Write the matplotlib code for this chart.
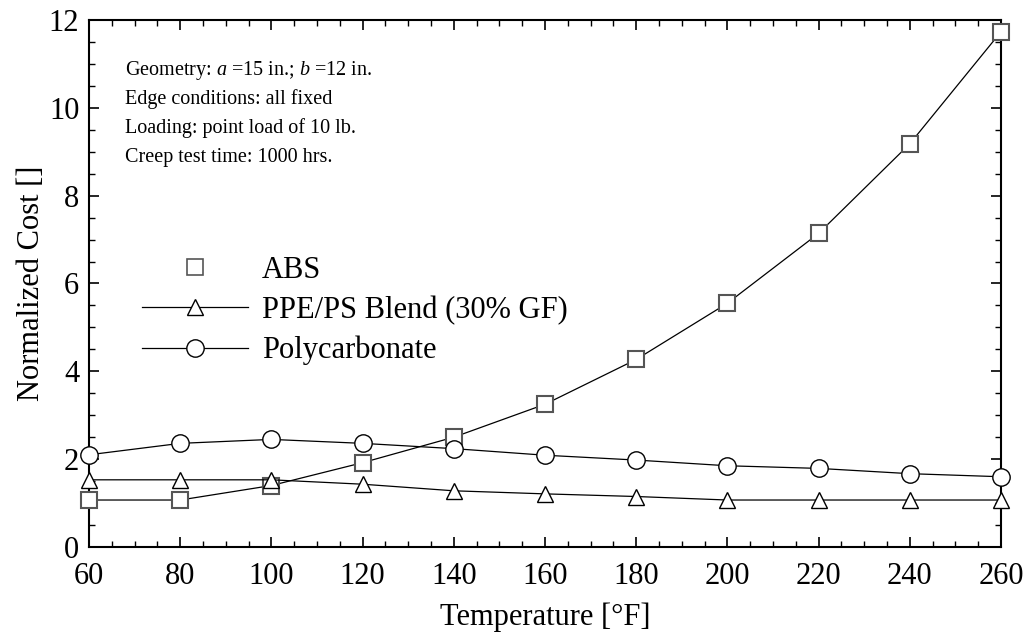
import matplotlib
matplotlib.use("Agg")
from matplotlib import pyplot as plt
from matplotlib.lines import Line2D
from matplotlib.ticker import MultipleLocator

# Data.
temps = [60, 80, 100, 120, 140, 160, 180, 200, 220, 240, 260]
abs_cost = [1.07, 1.07, 1.40, 1.92, 2.50, 3.25, 4.27, 5.55, 7.14, 9.18, 11.73]
ppe_cost = [1.53, 1.53, 1.53, 1.43, 1.28, 1.21, 1.15, 1.07, 1.07, 1.07, 1.07]
pc_cost = [2.10, 2.36, 2.45, 2.36, 2.24, 2.09, 1.98, 1.85, 1.79, 1.67, 1.60]

notes = [
    "Geometry: $\\it{a}$ =15 in.; $\\it{b}$ =12 in.",
    "Edge conditions: all fixed",
    "Loading: point load of 10 lb.",
    "Creep test time: 1000 hrs.",
]

plt.rcParams["font.family"] = ["Liberation Serif", "DejaVu Serif"]
plt.rcParams["mathtext.fontset"] = "custom"
plt.rcParams["mathtext.it"] = "Liberation Serif:italic"
plt.rcParams["mathtext.rm"] = "Liberation Serif"

fig = plt.figure(dpi=100, figsize=(10.24, 6.34))
ax = fig.add_axes([0.0869, 0.1372, 0.8906, 0.8313])

# Plotting data.
ax.plot(temps, abs_cost, c="black", lw=0.9, marker="s", ms=11.5,
        mfc="white", mec="#555555", mew=1.5, clip_on=False, zorder=3)
ax.plot(temps, ppe_cost, c="black", lw=0.9, marker="^", ms=12,
        mfc="white", mec="black", mew=1.0, clip_on=False, zorder=3)
ax.plot(temps, pc_cost, c="black", lw=0.9, marker="o", ms=12.5,
        mfc="white", mec="black", mew=1.0, clip_on=False, zorder=3)

# Legend: ABS shows only its marker.
handles = [
    Line2D([], [], ls="none", marker="s", ms=11.5, mfc="white", mec="#555555", mew=1.2),
    Line2D([], [], c="black", lw=0.9, marker="^", ms=12, mfc="white", mec="black"),
    Line2D([], [], c="black", lw=0.9, marker="o", ms=12.5, mfc="white", mec="black"),
]
labels = ["ABS", "PPE/PS Blend (30% GF)", "Polycarbonate"]
ax.legend(handles, labels, loc="upper left", bbox_to_anchor=(0.058, 0.552),
          frameon=False, fontsize=22, handlelength=3.46, handletextpad=0.46,
          labelspacing=0.35, borderpad=0, borderaxespad=0)

# Notes in the upper left corner.
for i, line in enumerate(notes):
    ax.text(0.04, 0.905 - i * 0.055, line, transform=ax.transAxes,
            fontsize=14.5, va="center", ha="left")

# Formatting plot.
ax.set_xlim(60, 260)
ax.set_ylim(0, 12)
ax.xaxis.set_major_locator(MultipleLocator(20))
ax.xaxis.set_minor_locator(MultipleLocator(5))
ax.yaxis.set_major_locator(MultipleLocator(2))
ax.yaxis.set_minor_locator(MultipleLocator(0.5))
ax.tick_params(axis="both", which="both", direction="in", top=True, right=True)
ax.tick_params(axis="both", which="major", length=7.5, width=1.2, labelsize=22)
ax.tick_params(axis="x", which="major", pad=11)
ax.tick_params(axis="y", which="major", pad=7)
ax.tick_params(axis="both", which="minor", length=4, width=1.0)
for side in ax.spines.values():
    side.set_linewidth(1.5)

ax.set_xlabel("Temperature [°F]", fontsize=22, labelpad=8)
ax.set_ylabel("Normalized Cost []", fontsize=22, labelpad=2)

plt.savefig("out.png")
